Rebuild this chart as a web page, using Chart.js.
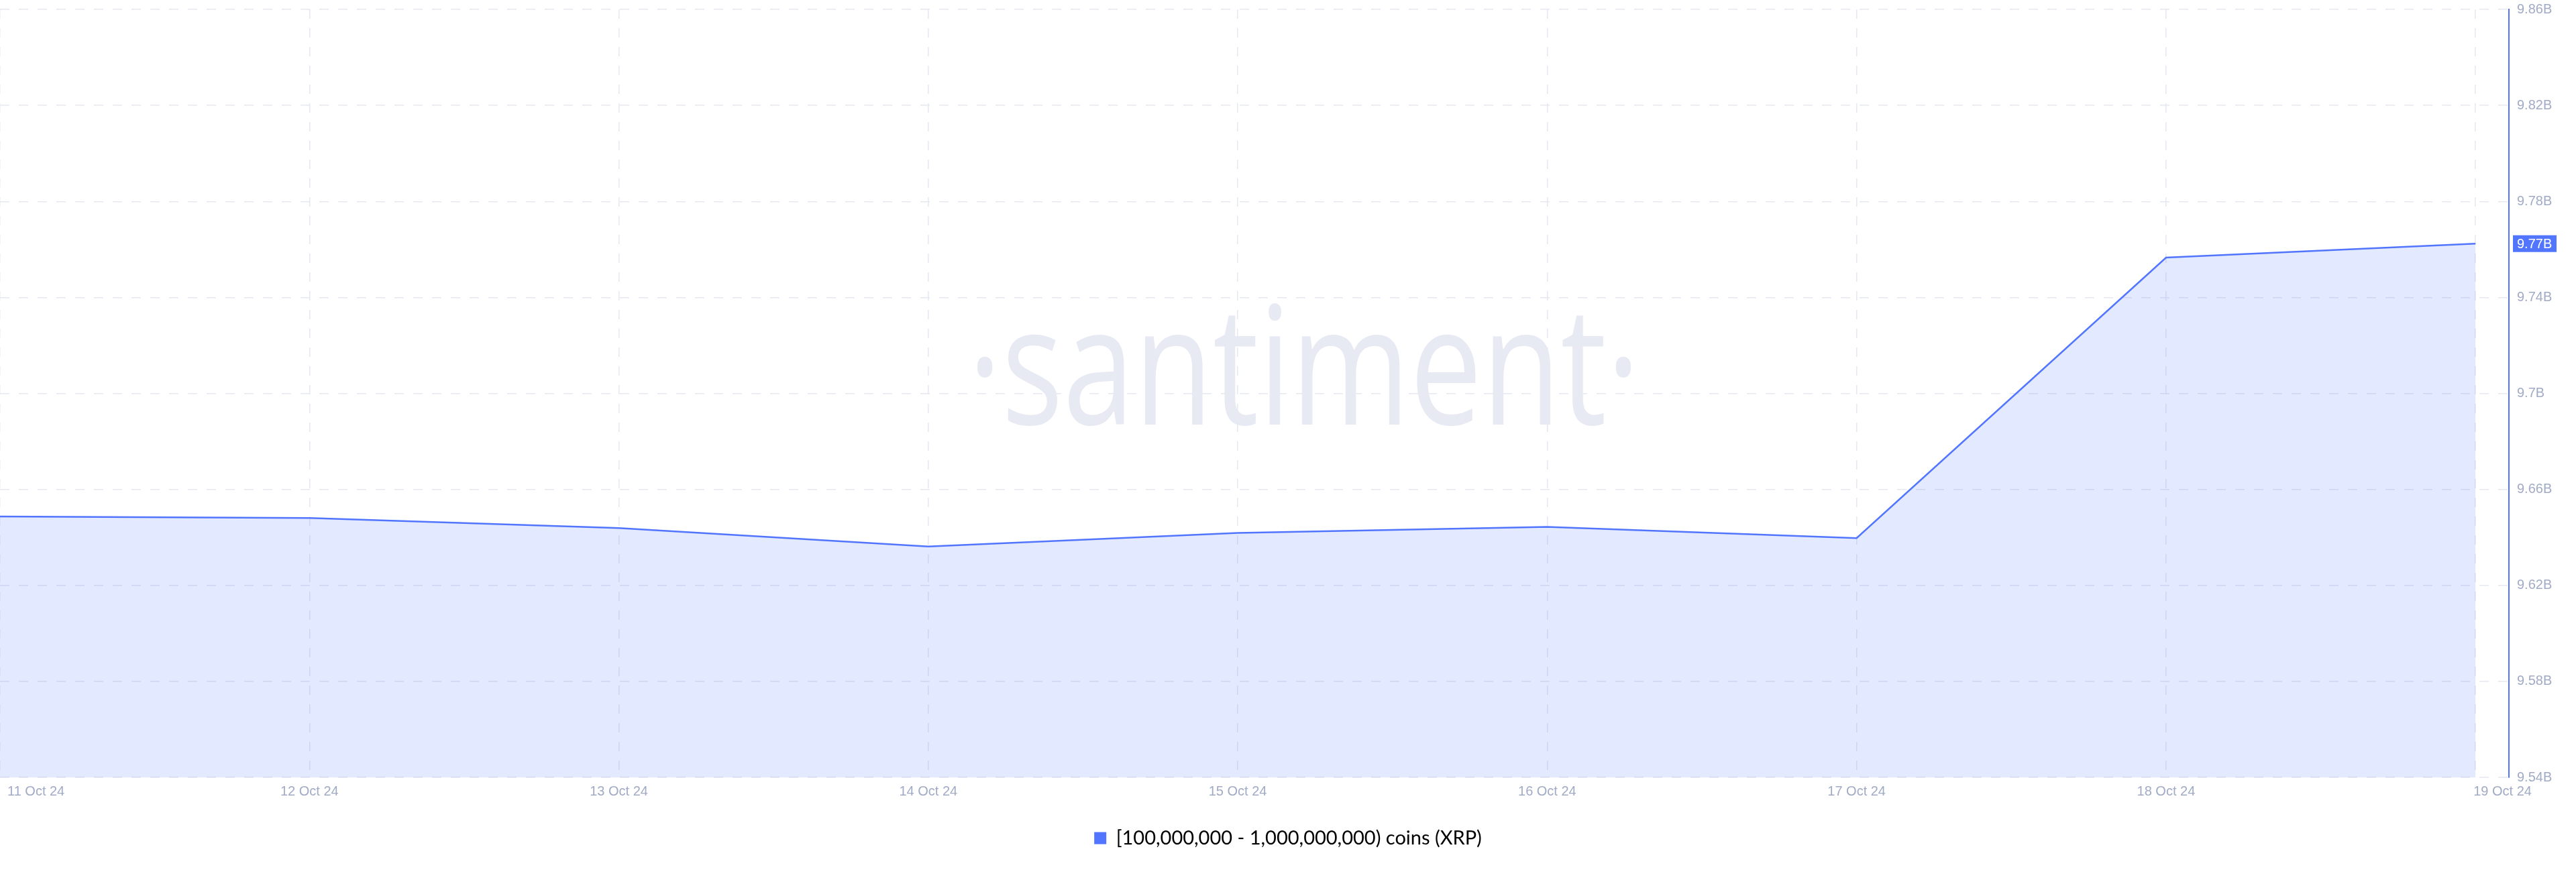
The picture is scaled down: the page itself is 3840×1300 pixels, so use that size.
<!DOCTYPE html>
<html>
<head>
<meta charset="utf-8">
<script src="https://cdn.jsdelivr.net/npm/chart.js@4.4.1/dist/chart.umd.min.js"></script>
<style>
  html, body { margin: 0; padding: 0; background: #fff; }
  #wrap { width: 3840px; height: 1300px; }
</style>
</head>
<body>
<div id="wrap"><canvas id="holdersChart" width="3840" height="1300"></canvas></div>
<script>
// Chart data
const dates = ['11 Oct 24', '12 Oct 24', '13 Oct 24', '14 Oct 24', '15 Oct 24', '16 Oct 24', '17 Oct 24', '18 Oct 24', '19 Oct 24'];
const supplyBillions = [9.6487, 9.6481, 9.6439, 9.6362, 9.6419, 9.6444, 9.6397, 9.7566, 9.7624];
const seriesLabel = '[100,000,000 - 1,000,000,000) coins (XRP)';
const yMin = 9.54;
const yMax = 9.86;
const yStep = 0.04;

const lineColor = '#5275ff';
const gridColor = '#e5e8f1';
const tickColor = '#a2abc5';

// watermark behind the line
const watermark = {
    id: 'watermark',
    beforeDatasetsDraw(chart) {
        const ctx = chart.ctx;
        const text = '\u00b7santiment\u00b7';
        ctx.save();
        ctx.font = '245px "Open Sans"';
        ctx.fillStyle = '#e7eaf3';
        ctx.textBaseline = 'alphabetic';
        ctx.textAlign = 'left';
        const w = ctx.measureText(text).width;
        const targetW = 1002;
        ctx.translate(1944 - targetW / 2, 633);
        ctx.scale(targetW / w, 1);
        ctx.fillText(text, 0, 0);
        ctx.restore();
    }
};

// date labels under the chart and the last value badge
const extraLabels = {
    id: 'extraLabels',
    afterDraw(chart) {
        const ctx = chart.ctx;
        const x = chart.scales.x;
        const y = chart.scales.y;
        ctx.save();
        ctx.font = '20px "Liberation Sans", Arial, sans-serif';
        ctx.fillStyle = tickColor;
        ctx.textBaseline = 'middle';
        dates.forEach((d, i) => {
            const px = x.getPixelForValue(i);
            const w = ctx.measureText(d).width;
            let left = px - w / 2;
            if (i === 0) left = px + 11;
            if (i === dates.length - 1) left = px - 3;
            ctx.fillText(d, left, chart.chartArea.bottom + 21);
        });

        const last = supplyBillions[supplyBillions.length - 1];
        const py = y.getPixelForValue(last);
        const badge = (Math.ceil(last * 100) / 100).toFixed(2) + 'B';
        ctx.fillStyle = lineColor;
        ctx.fillRect(chart.chartArea.right + 6, py - 12.5, 65, 25);
        ctx.fillStyle = '#ffffff';
        ctx.fillText(badge, chart.chartArea.right + 12, py + 1);
        ctx.restore();
    }
};

const ctx = document.getElementById('holdersChart').getContext('2d');
window.holdersChart = new Chart(ctx, {
    type: 'line',
    data: {
        datasets: [{
            label: seriesLabel,
            data: supplyBillions.map((v, i) => ({ x: i, y: v })),
            borderColor: lineColor,
            borderWidth: 2.5,
            backgroundColor: 'rgba(82, 117, 255, 0.16)',
            fill: 'start',
            pointRadius: 0,
            tension: 0
        }]
    },
    options: {
        responsive: false,
        animation: false,
        layout: { padding: { top: 14, bottom: 26, left: 0, right: 0 } },
        plugins: {
            tooltip: { enabled: false },
            legend: {
                position: 'bottom',
                labels: {
                    font: { family: 'Lato', size: 29 },
                    color: '#1b1e2e',
                    boxWidth: 18,
                    boxHeight: 18,
                    padding: 10,
                    generateLabels: () => [{
                        text: seriesLabel,
                        fillStyle: lineColor,
                        strokeStyle: lineColor,
                        lineWidth: 0,
                        hidden: false,
                        datasetIndex: 0
                    }]
                }
            }
        },
        scales: {
            x: {
                type: 'linear',
                min: 0,
                max: 8.108,
                ticks: { display: false, stepSize: 1, includeBounds: false },
                grid: { color: gridColor, lineWidth: 1.5, drawTicks: false },
                border: { display: false, dash: [14, 14] },
                afterFit: (scale) => { scale.height = 66; }
            },
            y: {
                position: 'right',
                min: yMin,
                max: yMax,
                ticks: {
                    stepSize: yStep,
                    padding: 12,
                    color: tickColor,
                    font: { family: '"Liberation Sans", Arial, sans-serif', size: 20 },
                    callback: (v) => (+v.toFixed(2)) + 'B'
                },
                grid: { color: gridColor, lineWidth: 1.5, drawTicks: false },
                border: { display: true, color: lineColor, width: 2, dash: [14, 14] },
                afterFit: (scale) => {
                    scale.width = 100;
                    scale.paddingTop = 0;
                    scale.paddingBottom = 0;
                }
            }
        }
    },
    plugins: [watermark, extraLabels]
});
</script>
</body>
</html>
